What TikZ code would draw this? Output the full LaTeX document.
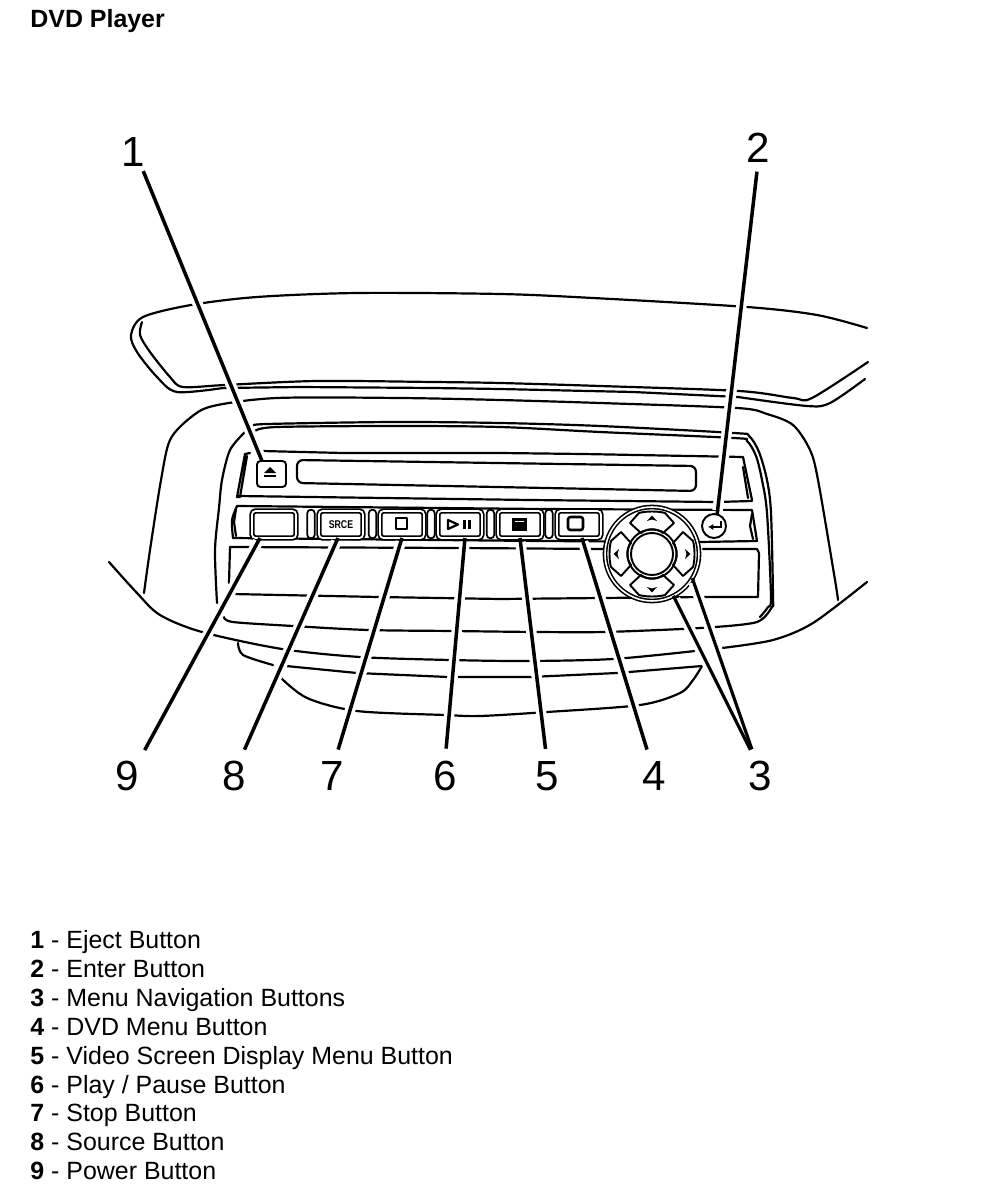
\documentclass[tikz,border=0pt]{standalone}
\usepackage{graphicx}
\usepackage{fontspec}
\setsansfont{Liberation Sans}
\usetikzlibrary{positioning, arrows.meta, calc}

\begin{document}
\begin{tikzpicture}[x=0.02cm, y=-0.02cm,
    >={Latex[length=3pt, width=3.5pt]},
    font=\sffamily,
    scene/.style={line width=1.25pt, line join=round, line cap=round},
    leaderline/.style={line width=2pt, shorten <=0.25cm},
    leader/.style={leaderline, preaction={draw=white, line width=6pt, shorten >=0.08cm}},
    leaderfar/.style={leaderline, line width=1.8pt, preaction={draw=white, line width=6pt, shorten <=1.4cm, shorten >=0.08cm}},
    numlabel/.style={inner sep=0pt, outer sep=0pt, font=\sffamily\fontsize{24}{24}\selectfont},
    legend/.style={anchor=base west, inner sep=0pt, font=\sffamily\fontsize{14.2}{16}\selectfont},
    btn/.style={draw, double, double distance=1pt, line width=1pt, rounded corners=0.07cm, fill=white,
        minimum width=0.88cm, minimum height=0.54cm, inner sep=0pt, outer sep=0pt},
    sliver/.style={draw, line width=1pt, rounded corners=0.07cm, fill=white,
        minimum width=0.15cm, minimum height=0.57cm, inner sep=0pt},
    round/.style={draw, circle, line width=1.1pt, fill=white, inner sep=0pt, outer sep=0pt},
    navpad/.pic={
        \draw[scene, line width=1.1pt] (-22,-31) -- (-13,-41) .. controls (-6,-43) and (6,-43) .. (13,-41)
            -- (22,-31) -- (11,-21) .. controls (5,-26) and (-5,-26) .. (-11,-21) -- cycle;
        \fill (-5,-33) -- (0,-38.5) -- (5,-33) -- (0,-34.5) -- cycle;
    }
]
\useasboundingbox (0,0) rectangle (992,1202);

% 1. Title
\node[anchor=base west, inner sep=0pt, font=\sffamily\bfseries\fontsize{14.2}{16}\selectfont] (title) at (30,28) {DVD Player};

% 2. Housing, drawn first so that everything else lies on top of it
\draw[scene] plot[smooth, tension=0.5] coordinates {(867,328) (817,315) (747,307) (593,298) (500,294) (357,293) (257,297) (191,305) (143,317) (131,335) (137,352) (157,377) (177,392) (223,388)};
\draw[scene] (223,388) -- (300,387) -- (433,388) -- (500,389) -- (633,392) -- (738,397);
\draw[scene] plot[smooth, tension=0.5] coordinates {(142,322) (140,335) (150,352) (170,377) (183,387) (225,385) (317,381) (433,382) (500,383) (600,386) (739,391) (793,398) (812,398) (868,362)};
\draw[scene] plot[smooth, tension=0.5] coordinates {(738,397) (807,406) (830,403) (865,379)};
\draw[scene] plot[smooth, tension=0.5] coordinates {(144,593) (150,550) (161,480) (170,440) (190,418) (213,406) (277,398) (400,398) (500,400) (600,403) (737,408) (767,414) (793,425) (810,450) (818,480) (835,580) (838,600)};
\draw[scene] plot[smooth, tension=0.5] coordinates {(109,562) (137,593) (160,615) (202,632) (282,649) (360,657) (450,660) (528,661) (613,659) (695,651)};
\draw[scene] plot[smooth, tension=0.5] coordinates {(722,648) (773,640) (813,623) (867,582)};

% 3. Bezel around the slot
\draw[scene] plot[smooth, tension=0.5] coordinates {(253,426) (267,424) (393,422) (500,423) (600,426) (734,433) (749,436) (759,452) (767,480) (771,513) (773,597) (772,607) (757,622) (715,627)};
\draw[scene] plot[smooth, tension=0.5] coordinates {(255,431) (277,427) (400,426) (500,427) (600,432) (734,438) (747,441) (756,456) (762,480) (767,513) (771,597) (768,607) (760,617)};
\draw[scene] plot[smooth, tension=0.5] coordinates {(245,432) (230,450) (222,480) (219,508) (215,550) (217,603)};
\draw[scene] (250,453) -- (245,454) -- (237,497) -- (240,497) -- (247,456);
\draw[scene] (262,451) -- (343,453) -- (500,453) -- (583,454) -- (743,457) -- (752,500);
\draw[scene] (743,467) -- (748,498);
\draw[scene, rounded corners=0.12cm] (297,460) -- (696,466) -- (696,491) -- (297,483) -- cycle;
\draw[scene] (238,496) -- (530,500) -- (717,502) -- (752,501);

% 4. Button strip and the panels below it
\draw[scene] plot[smooth, tension=0.5] coordinates {(233,538) (232,520) (237,506)};
\draw[scene] (237,506) -- (540,509) -- (752,510) -- (757,541) -- (700,542) -- (540,541) -- (233,538);
\draw[scene] (236,509) -- (234,522) -- (236,536);
\draw[scene] (752,514) -- (750,526) -- (753,539);
\draw[scene] (230,547) -- (229,583);
\draw[scene] (230,547) -- (458,548) -- (605,549);
\draw[scene] (703,549) -- (757,549) -- (759,553) -- (758,597) -- (703,597);
\draw[scene] (232,594) -- (378,597) -- (500,599) -- (703,597);
\draw[scene] plot[smooth, tension=0.5] coordinates {(224,617) (233,622) (293,626) (368,630) (452,631) (537,632) (604,632) (682,629) (715,627)};
\draw[scene] plot[smooth, tension=0.5] coordinates {(238,643) (243,655) (273,665)};
\draw[scene] (286,666) -- (357,673) -- (448,677) -- (530,677) -- (617,673) -- (702,666);
\draw[scene] plot[smooth, tension=0.5] coordinates {(702,666) (693,680) (680,693) (640,705) (547,712) (480,716) (445,715) (357,711) (307,698) (280,677)};

% 5. Buttons
\node[btn] (eject) at (271.5,474) [minimum width=0.58cm, minimum height=0.52cm, double=none, line width=1.1pt] {};
\fill (264,473) -- (276,473) -- (270,467) -- cycle;
\fill (264,475) rectangle (276,477);

\node[btn] (power) at (274,524.5) {};
\node[btn, right=0.46cm of power, font=\sffamily\bfseries\fontsize{6.4}{7}\selectfont] (srce) {\scalebox{0.78}[1]{SRCE}};
\node[btn, right=0.34cm of srce] (stop) {};
\node[btn, right=0.28cm of stop] (play) {};
\node[btn, right=0.32cm of play] (video) {};
\node[btn, right=0.30cm of video] (dvdmenu) {};

\node[sliver] (gapa) at (311,524) {};
\node[sliver] (gapb) at (372.5,524) {};
\node[sliver] (gapc) at (431,524) {};
\node[sliver] (gapd) at (490.5,524) {};
\node[sliver] (gape) at (549,524) {};

% Symbols on the buttons
\draw[scene] (396,518) rectangle (407,529);
\draw[scene] (448,520) -- (458,524.5) -- (448,529) -- cycle;
\fill (463,520) rectangle (466,529);
\fill (468,520) rectangle (471,529);
\fill (512,518) rectangle (527,531);
\draw[white, line width=1pt] (515,521.5) -- (524,521.5);
\draw[scene, line width=1.5pt, rounded corners=0.05cm] (568,517) rectangle (583,530);

% 6. Enter button and round menu navigation pad
\node[round, minimum size=0.48cm] (enter) at (714,526) {};
\draw[->, line width=1.3pt] (721,521) -- (721,527) -- (708,527);

\node[round, double, double distance=0.9pt, line width=0.9pt, minimum size=1.88cm] (nav) at (652,554) {};
\node[round, minimum size=0.98cm] (navring) at (nav) {};
\node[round, minimum size=0.84cm] (navcentre) at (nav) {};
\pic at (nav) {navpad};
\pic[rotate=90] at (nav) {navpad};
\pic[rotate=180] at (nav) {navpad};
\pic[rotate=270] at (nav) {navpad};

% 7. Callout numbers
\node[numlabel] (num1) at (133,152) {1};
\node[numlabel] (num2) at (758,148) {2};
\node[numlabel] (num9) at (127,776) {9};
\node[numlabel] (num8) at (234,776) {8};
\node[numlabel] (num7) at (332,776) {7};
\node[numlabel] (num6) at (445,776) {6};
\node[numlabel] (num5) at (547,776) {5};
\node[numlabel] (num4) at (654,776) {4};
\node[numlabel] (num3) at (760,776) {3};

% 8. Leader lines
\draw[leader, shorten <=0.1cm] (num1.-60) -- ([xshift=-0.19cm]eject.north);
\draw[leader, shorten <=0.18cm] (num2.south) -- (enter.75);
\draw[leaderfar] (num3.105) -- (nav.-63);
\draw[leaderfar] (num3.105) -- (nav.-31);
\draw[leader] (num4.103) -- ([xshift=0.06cm]dvdmenu.south);
\draw[leader] (num5.north) -- (video.south);
\draw[leader] (num6.north) -- ([xshift=0.1cm]play.south);
\draw[leader] (num7.80) -- (stop.south);
\draw[leader] (num8.70) -- ([xshift=-0.06cm]srce.south);
\draw[leader] (num9.north east) -- ([xshift=-0.28cm]power.south);

% 9. Key
\node[legend] (key1) at (30,948) {\textbf{1} - Eject Button};
\node[legend] (key2) at (30,977) {\textbf{2} - Enter Button};
\node[legend] (key3) at (30,1006) {\textbf{3} - Menu Navigation Buttons};
\node[legend] (key4) at (30,1035) {\textbf{4} - DVD Menu Button};
\node[legend] (key5) at (30,1064) {\textbf{5} - Video Screen Display Menu Button};
\node[legend] (key6) at (30,1093) {\textbf{6} - Play / Pause Button};
\node[legend] (key7) at (30,1121) {\textbf{7} - Stop Button};
\node[legend] (key8) at (30,1150) {\textbf{8} - Source Button};
\node[legend] (key9) at (30,1179) {\textbf{9} - Power Button};

\end{tikzpicture}
\end{document}
